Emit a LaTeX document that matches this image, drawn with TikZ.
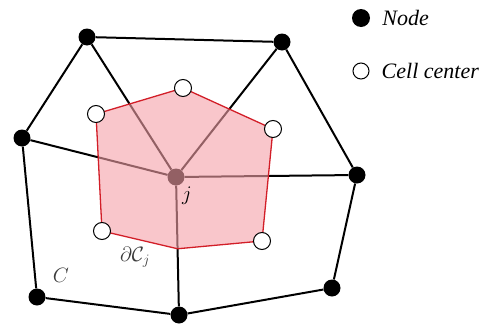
\documentclass[tikz,border=0pt]{standalone}
\usepackage{amsmath,amssymb}
\usepackage{fontspec}
\setmainfont{Liberation Serif}
\usepackage{xcolor}
\usetikzlibrary{positioning, calc}
\definecolor{dualfill}{RGB}{245,160,168}
\definecolor{dualedge}{RGB}{210,30,40}
\definecolor{labelgray}{RGB}{60,60,60}
\tikzset{
  meshnode/.style={
    circle, fill=black, inner sep=0pt, minimum size=17pt
  },
  cellctr/.style={
    circle, draw=black, fill=white, line width=1pt,
    inner sep=0pt, minimum size=17pt
  },
  meshedge/.style={draw=black, line width=2pt},
  dualcell/.style={fill=dualfill, fill opacity=0.6},
  dualline/.style={draw=dualedge, line width=1.3pt, line join=round},
  keytext/.style={font=\fontsize{22}{26}\selectfont\itshape, inner sep=1pt, anchor=west},
  marktext/.style={font=\fontsize{21}{25}\selectfont, text=labelgray, inner sep=0pt},
}

\begin{document}
\begin{tikzpicture}[x=1pt, y=-1pt]
  \useasboundingbox (0,0) rectangle (483,327);

  % mesh nodes
  \node[meshnode] (NW) at (87,37) {};
  \node[meshnode] (NE) at (282,42) {};
  \node[meshnode] (W) at (22,138) {};
  \node[meshnode] (E) at (357,175) {};
  \node[meshnode] (SW) at (37,297) {};
  \node[meshnode] (S) at (179,315) {};
  \node[meshnode] (SE) at (332,288) {};
  \node[meshnode] (J) at (176,177) {};

  % mesh edges
  \draw[meshedge] (NW) -- (NE);
  \draw[meshedge] (NW) -- (W);
  \draw[meshedge] (NW) -- (J);
  \draw[meshedge] (NE) -- (J);
  \draw[meshedge] (NE) -- (E);
  \draw[meshedge] (W) -- (J);
  \draw[meshedge] (W) -- (SW);
  \draw[meshedge] (J) -- (E);
  \draw[meshedge] (J) -- (S);
  \draw[meshedge] (SW) -- (S);
  \draw[meshedge] (S) -- (SE);
  \draw[meshedge] (SE) -- (E);

  % dual cell around j
  \coordinate (c1) at (96,114);
  \coordinate (c2) at (183,88);
  \coordinate (c3) at (273,129);
  \coordinate (c4) at (262,241);
  \coordinate (c5) at (102,231);
  \coordinate (m) at ($(J)!0.52!(S)$);
  \fill[dualcell] (c1) -- (c2) -- (c3) -- (c4) -- (m) -- (c5) -- cycle;
  \draw[dualline] (c1) -- (c2) -- (c3) -- (c4) -- (m) -- (c5) -- cycle;

  \foreach \c in {c1,c2,c3,c4,c5}
    \node[cellctr] (\c n) at (\c) {};

  % labels
  \node[marktext, text=black] (jlab) at (187,196) {$j$};
  \node[marktext] (dclab) at (135,257) {$\partial\mathcal{C}_j$};
  \node[marktext] (clab) at (61,275) {$C$};

  % legend
  \node[meshnode, minimum size=18pt] (keynode) at (361,18) {};
  \node[keytext, right=11pt of keynode] (keynodetxt) {Node};
  \node[cellctr, minimum size=16pt] (keycell) at (361,71) {};
  \node[keytext, right=11pt of keycell] (keycelltxt) {Cell center};
\end{tikzpicture}
\end{document}
